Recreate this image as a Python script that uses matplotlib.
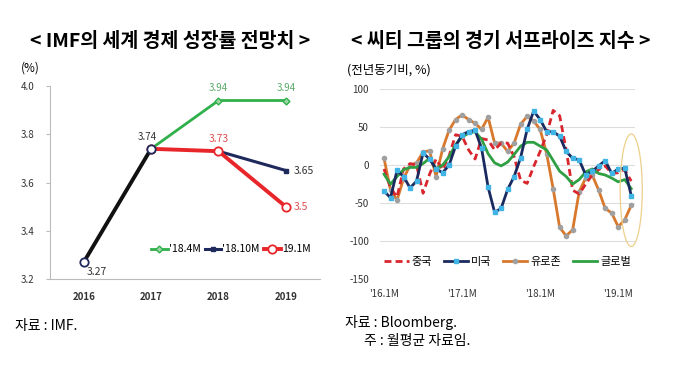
import matplotlib
matplotlib.use("Agg")
import matplotlib.pyplot as plt
from matplotlib.patches import Ellipse

plt.rcParams['font.family'] = ['Noto Sans CJK KR', 'DejaVu Sans']

# left chart: IMF world growth forecasts
years = ['2016', '2017', '2018', '2019']
actual = [3.27, 3.74]
f_1804 = [3.74, 3.94, 3.94]
f_1810 = [3.73, 3.65]
f_1901 = [3.74, 3.73, 3.5]

# right chart: Citi economic surprise index, monthly, '16.1 ~ '19.3
months = list(range(39))
month_ticks = [0, 12, 24, 36]
month_labels = ["'16.1M", "'17.1M", "'18.1M", "'19.1M"]
china = [-5, -30, -42, -5, 2, 0, -37, -12, 8, -6, 12, 40, 38, 20, 8, 35, 33, 20, 29, 29,
         11, -20, -24, -2, 18, 40, 72, 65, 20, -33, -38, -25, -13, -6, -1, -11, -10, -6, -21]
usa = [-34, -43, -7, -15, -30, -21, 16, 8, -5, -10, 0, 25, 40, 44, 46, 22, -29, -62, -57, -32,
       -15, 10, 47, 71, 60, 44, 44, 38, 18, 9, 7, -13, -8, -1, 6, -11, -5, -4, -40]
euro = [9, -33, -46, -18, 0, 3, 17, 19, -15, 21, 46, 60, 66, 60, 55, 47, 63, 29, 29, 18,
        29, 54, 64, 58, 47, 15, -31, -82, -93, -85, -35, -17, -13, -33, -57, -63, -81, -72, -53]
glob = [-12, -25, -15, -6, -3, -3, 2, 9, -5, 0, 11, 27, 37, 42, 44, 34, 15, 3, -1, 4,
        14, 25, 30, 30, 25, 20, 6, -8, -15, -25, -19, -9, -5, -11, -13, -17, -22, -19, -31]

fig = plt.figure(figsize=(6.8, 3.84), dpi=100)

# ---------------- left ----------------
ax1 = fig.add_axes([0.0735, 0.273, 0.3965, 0.503])
x = list(range(len(years)))
GREEN, NAVY, RED = '#2fb04a', '#1f2a5c', '#e8262a'

ax1.plot(x[1:], f_1804, color=GREEN, lw=2, marker='D', ms=3.5, mfc='#9fd6a8', mec=GREEN, label="'18.4M", zorder=2)
ax1.plot(x[2:], f_1810, color=NAVY, lw=2.2, marker='s', ms=3.5, mfc=NAVY, mec=NAVY, label="'18.10M", zorder=3)
ax1.plot(x[1:], f_1901, color=RED, lw=2.8, marker='o', ms=6, mfc='white', mec=RED, mew=1.3, label="19.1M", zorder=4)
ax1.plot(x[:2], actual, color='#111111', lw=2.8, marker='o', ms=6, mfc='white', mec='#1f2a5c', mew=1.3, zorder=5)

ax1.text(x[2], f_1804[1] + 0.03, '3.94', color='#5aaa6a', fontsize=7, ha='center', va='bottom')
ax1.text(x[3], f_1804[2] + 0.03, '3.94', color='#5aaa6a', fontsize=7, ha='center', va='bottom')
ax1.text(x[1] - 0.05, actual[1] + 0.03, '3.74', color='#333333', fontsize=7, ha='center', va='bottom')
ax1.text(x[2], f_1901[1] + 0.03, '3.73', color='#e05050', fontsize=7.5, ha='center', va='bottom')
ax1.text(x[3] + 0.12, f_1810[1], '3.65', color='#333333', fontsize=7.5, ha='left', va='center')
ax1.text(x[3] + 0.12, f_1901[2], '3.5', color='#e05050', fontsize=7.5, ha='left', va='center')
ax1.text(x[0] + 0.05, actual[0] - 0.02, '3.27', color='#333333', fontsize=7.5, ha='left', va='top')

ax1.set_xlim(-0.5, 3.5)
ax1.set_ylim(3.2, 4.0)
ax1.set_xticks(x)
ax1.set_xticklabels(years, fontsize=7, fontweight='bold', color='#333333')
ax1.set_yticks([3.2, 3.4, 3.6, 3.8, 4.0])
ax1.set_yticklabels(['3.2', '3.4', '3.6', '3.8', '4.0'], fontsize=7, color='#333333')
ax1.tick_params(axis='x', length=0, pad=9)
ax1.tick_params(axis='y', length=3, color='#bbbbbb', pad=8)
for s in ['top', 'right']:
    ax1.spines[s].set_visible(False)
ax1.spines['left'].set_color('#bbbbbb')
ax1.spines['bottom'].set_color('#bbbbbb')
ax1.legend(loc='lower right', bbox_to_anchor=(1.0, 0.08), ncol=3, frameon=False, fontsize=7.5,
           handlelength=1.6, handletextpad=0.1, columnspacing=0.4)

fig.text(0.25, 0.893, '< IMF의 세계 경제 성장률 전망치 >', fontsize=14, fontweight='bold', ha='center', va='center')
fig.text(0.03, 0.823, '(%)', fontsize=8.5, ha='left', va='center')
fig.text(0.022, 0.152, '자료 : IMF.', fontsize=10, ha='left', va='center')

# ---------------- right ----------------
ax2 = fig.add_axes([0.559, 0.273, 0.375, 0.495])
ax2.plot(months, china, color='#d9262e', lw=2, ls=(0, (2.5, 1.5)), label='중국', zorder=3)
ax2.plot(months, usa, color='#1b2a5e', lw=2, marker='s', ms=3.5, mfc='#3fb4e5', mec='#3fb4e5', label='미국', zorder=4)
ax2.plot(months, euro, color='#d7782c', lw=2, marker='o', ms=3, mfc='#a0a0a0', mec='#a0a0a0', label='유로존', zorder=2)
ax2.plot(months, glob, color='#2ea043', lw=2, label='글로벌', zorder=3)
ax2.add_patch(Ellipse((38.0, -33), 3.4, 148, fill=False, ec='#ecd08a', lw=0.9, zorder=5, clip_on=False))

ax2.set_xlim(-0.6, 38.6)
ax2.set_ylim(-150, 100)
ax2.set_yticks([-150, -100, -50, 0, 50, 100])
ax2.set_yticklabels(['-150', '-100', '-50', '0', '50', '100'], fontsize=7, color='#333333')
ax2.set_xticks(month_ticks)
ax2.set_xticklabels(month_labels, fontsize=7, color='#333333')
ax2.tick_params(axis='both', length=0)
ax2.tick_params(axis='y', pad=8)
ax2.tick_params(axis='x', pad=7)
ax2.grid(axis='y', color='#dddddd', lw=0.8)
ax2.set_axisbelow(True)
for s in ax2.spines.values():
    s.set_visible(False)
ax2.legend(loc='center', bbox_to_anchor=(0.5, 0.09), ncol=4, frameon=False, fontsize=8,
           handlelength=2.2, handletextpad=0.3, columnspacing=1.0)

fig.text(0.737, 0.893, '< 씨티 그룹의 경기 서프라이즈 지수 >', fontsize=14, fontweight='bold', ha='center', va='center')
fig.text(0.51, 0.818, '(전년동기비, %)', fontsize=9, ha='left', va='center')
fig.text(0.508, 0.16, '자료 : Bloomberg.', fontsize=10, ha='left', va='center')
fig.text(0.535, 0.113, '주 : 월평균 자료임.', fontsize=10, ha='left', va='center')

fig.savefig('out.png', dpi=100)
